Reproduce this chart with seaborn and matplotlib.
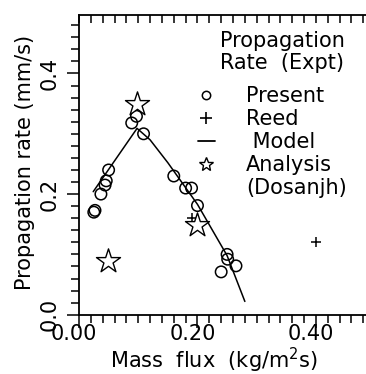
import numpy as np
import pandas as pd
import matplotlib
matplotlib.use("Agg")
import matplotlib.pyplot as plt
import matplotlib.transforms as mtransforms
from matplotlib.lines import Line2D
import seaborn as sns

# ---- data ----
present_x = [0.025, 0.027, 0.037, 0.044, 0.046, 0.050, 0.089, 0.097, 0.109,
             0.160, 0.180, 0.190, 0.200, 0.240, 0.250, 0.251, 0.265]
present_y = [0.170, 0.173, 0.200, 0.215, 0.222, 0.240, 0.318, 0.329, 0.300,
             0.230, 0.210, 0.210, 0.181, 0.071, 0.100, 0.092, 0.081]

reed_x = [0.190, 0.400]
reed_y = [0.160, 0.120]

model_x = [0.024, 0.098, 0.120, 0.150, 0.200, 0.250, 0.280]
model_y = [0.204, 0.309, 0.290, 0.252, 0.183, 0.098, 0.022]

analysis_x = [0.049, 0.098, 0.199]
analysis_y = [0.089, 0.350, 0.149]

x_major = [0.0, 0.2, 0.4]
x_labels = ["0.00", "0.20", "0.40"]
y_major = [0.0, 0.2, 0.4]
y_labels = ["0.0", "0.2", "0.4"]

legend_title = "Propagation\nRate  (Expt)"
legend_labels = ["Present", "Reed", " Model", "Analysis", "(Dosanjh)"]

# ---- style ----
sns.set_style("ticks")
plt.rcParams["font.family"] = ["DejaVu Sans"]
for k in ["text.color", "axes.labelcolor", "xtick.color", "ytick.color",
          "axes.edgecolor"]:
    plt.rcParams[k] = "black"
FS = 15

W, H = 366, 374
fig = plt.figure(figsize=(W / 100, H / 100), dpi=100)
L, R, T, B = 79, 366, 15, 314.7
ax = fig.add_axes([L / W, 1 - B / H, (R - L) / W, (B - T) / H])

df_p = pd.DataFrame({"x": present_x, "y": present_y})
df_r = pd.DataFrame({"x": reed_x, "y": reed_y})
df_m = pd.DataFrame({"x": model_x, "y": model_y})
df_a = pd.DataFrame({"x": analysis_x, "y": analysis_y})

sns.lineplot(data=df_m, x="x", y="y", ax=ax, color="black", lw=1.1,
             estimator=None, sort=False, zorder=2)
sns.scatterplot(data=df_p, x="x", y="y", ax=ax, marker="o", s=68,
                facecolor="none", edgecolor="black", linewidth=1.1, zorder=3)
sns.scatterplot(data=df_r, x="x", y="y", ax=ax, marker="+", s=60,
                color="black", linewidth=1.1, zorder=3)
sns.scatterplot(data=df_a, x="x", y="y", ax=ax, marker="*", s=330,
                facecolor="white", edgecolor="black", linewidth=1.0, zorder=4)

ax.set_xlim(0, 0.4845)
ax.set_ylim(0, 0.497)

ax.set_xticks(x_major)
ax.set_xticklabels(x_labels, fontsize=FS)
ax.set_xticks(np.arange(0, 0.49, 0.02), minor=True)
ax.set_yticks(y_major)
ax.set_yticklabels(y_labels, fontsize=FS, rotation=90, va="center")
ax.set_yticks(np.arange(0, 0.5, 0.02), minor=True)

ax.tick_params(axis="both", which="major", direction="out", length=9,
               width=1.1, color="black", labelcolor="black")
ax.tick_params(axis="both", which="minor", direction="out", length=5.5,
               width=1.1, color="black")
ax.tick_params(axis="x", which="major", pad=-2)
ax.tick_params(axis="y", which="major", pad=5)

off = mtransforms.ScaledTranslation(-5 / 100, 0, fig.dpi_scale_trans)
for lab in ax.get_xticklabels():
    lab.set_transform(lab.get_transform() + off)

ax.spines["right"].set_visible(False)
ax.spines["top"].set_visible(False)
for s in ["left", "bottom"]:
    ax.spines[s].set_linewidth(1.3)
    ax.spines[s].set_color("black")

secx = ax.secondary_xaxis("top")
secx.set_xticks(np.arange(0, 0.49, 0.02))
secx.tick_params(direction="in", length=5.5, width=1.1, labeltop=False,
                 color="black")
secx.spines["top"].set_linewidth(1.3)
secx.spines["top"].set_color("black")

ax.set_xlabel("Mass  flux  (kg/m$^{\\mathregular{2}}$s)", fontsize=FS)
ax.xaxis.set_label_coords((214.5 - L) / (R - L), -(360 - B) / (B - T),
                          transform=ax.transAxes)
ax.xaxis.label.set_va("center")
ax.set_ylabel("Propagation rate (mm/s)", fontsize=FS)
ax.yaxis.set_label_coords(-(L - 25) / (R - L), (B - 162) / (B - T),
                          transform=ax.transAxes)
ax.yaxis.label.set_va("center")

# legend title as text, entries as legend
fig.text(282 / W, 1 - 52 / H, legend_title, fontsize=FS, ha="center",
         va="center", multialignment="center", linespacing=1.1)

handles = [
    Line2D([], [], ls="none", marker="o", mfc="none", mec="black", ms=6, mew=1.1),
    Line2D([], [], ls="none", marker="+", color="black", ms=8, mew=1.2),
    Line2D([], [], color="black", lw=1.3),
    Line2D([], [], ls="none", marker="*", mfc="white", mec="black", ms=10, mew=1.0),
    Line2D([], [], ls="none"),
]
leg = ax.legend(handles, legend_labels, frameon=False,
                loc="upper left", bbox_to_anchor=(198 / W, 1 - 86 / H),
                bbox_transform=fig.transFigure, borderpad=0, borderaxespad=0,
                fontsize=FS, handlelength=0.8,
                handletextpad=1.5, labelspacing=0.15)

fig.savefig("out.png", dpi=100)
